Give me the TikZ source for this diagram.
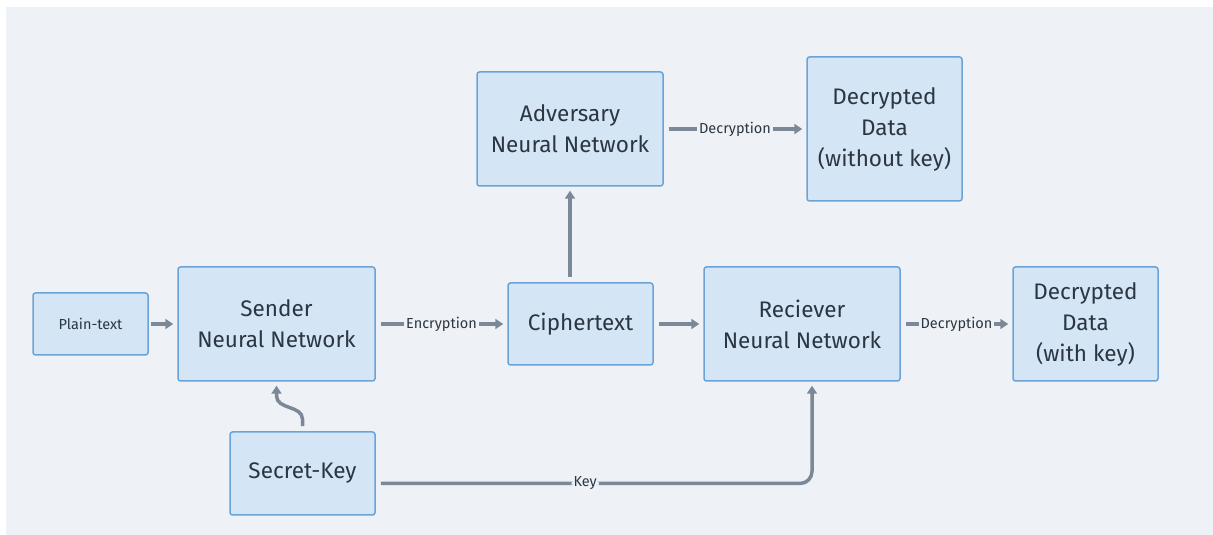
\documentclass[tikz,border=0pt]{standalone}
\usepackage{fontspec}
\setmainfont{Fira Sans}
\usetikzlibrary{arrows.meta}
\definecolor{bgcol}{HTML}{EEF2F6}
\definecolor{boxfill}{HTML}{D4E5F6}
\definecolor{boxline}{HTML}{6CA3D6}
\definecolor{arrcol}{HTML}{7B8897}
\definecolor{ink}{HTML}{2B3641}
\begin{document}
\begin{tikzpicture}[x=1pt,y=1pt,
        box/.style={draw=boxline,fill=boxfill,line width=1.5pt,rounded corners=2.5pt,
                text=ink,align=center,inner sep=0pt,font=\fontsize{22.5}{31}\selectfont},
        arr/.style={draw=arrcol,line width=3.5pt,shorten <=5pt,shorten >=4pt,
                -{Triangle[length=8pt,width=10pt]}},
        lbl/.style={fill=bgcol,text=ink,inner sep=2pt,font=\fontsize{14.5}{17}\selectfont}]
        \useasboundingbox (0,0) rectangle (1213,535);
        \fill[bgcol] (6,0) rectangle (1213,528);
        % boxes
        \node[box,minimum width=115,minimum height=62,font=\fontsize{14.5}{17}\selectfont] (plain) at (90.5,211) {Plain-text};
        \node[box,minimum width=197,minimum height=114] (sender) at (276.5,211) {Sender\\Neural Network};
        \node[box,minimum width=145,minimum height=83] (secret) at (302.5,61.5) {Secret-Key};
        \node[box,minimum width=145,minimum height=82] (cipher) at (580.5,211) {Ciphertext};
        \node[box,minimum width=186,minimum height=114] (adv) at (570,406) {Adversary\\Neural Network};
        \node[box,minimum width=155,minimum height=144] (decnokey) at (884.5,406) {Decrypted\\Data\\(without key)};
        \node[box,minimum width=196,minimum height=114] (receiver) at (802,211) {Reciever\\Neural Network};
        \node[box,minimum width=145,minimum height=114] (deckey) at (1085.5,211) {Decrypted\\Data\\(with key)};
        % connectors
        \draw[arr,shorten <=2pt] (plain) -- (sender);
        \draw[arr] (sender) -- (cipher) node[lbl,midway] {Encryption};
        \draw[arr] (cipher) -- (receiver);
        \draw[arr] (adv.south |- cipher.north) -- (adv.south);
        \draw[arr] (adv) -- (decnokey) node[lbl,midway] {Decryption};
        \draw[arr] (receiver) -- (deckey) node[lbl,midway] {Decryption};
        \draw[arr] (secret.north) -- ++(0,12) .. controls +(0,14) and +(0,-14) .. ([yshift=-14]sender.south) -- (sender.south);
        \draw[arr,rounded corners=12] ([yshift=-10]secret.east) -| ([xshift=10]receiver.south) node[lbl,pos=0.24] {Key};
\end{tikzpicture}
\end{document}
